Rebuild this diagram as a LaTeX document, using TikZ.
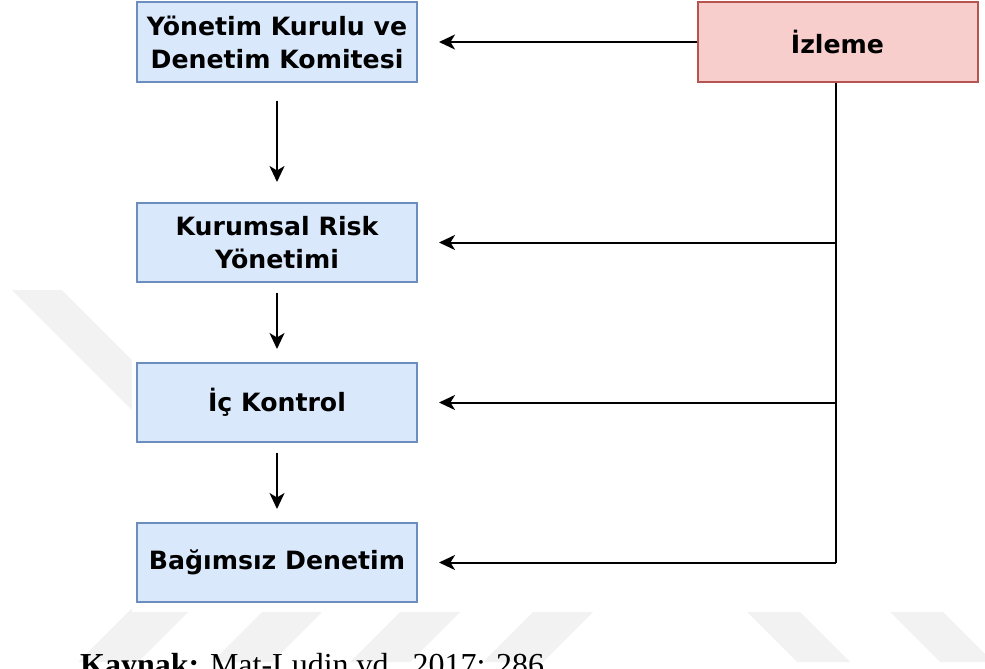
\documentclass[tikz,border=0pt]{standalone}
\usepackage{fontspec}
\setmainfont{Liberation Serif}
\newfontfamily\boxfont{DejaVu Sans}
\usetikzlibrary{arrows.meta}

\definecolor{bluefill}{HTML}{DAE8FC}
\definecolor{blueline}{HTML}{6C8EBF}
\definecolor{redfill}{HTML}{F8CECC}
\definecolor{redline}{HTML}{B85450}
\definecolor{markgray}{HTML}{F2F2F2}

\tikzset{
  box/.style={draw=blueline, fill=bluefill, line width=2pt,
    minimum width=280pt, minimum height=79pt, inner sep=0pt,
    align=center, font=\boxfont\bfseries\fontsize{25.2}{33}\selectfont},
  monbox/.style={box, draw=redline, fill=redfill},
  wire/.style={line width=2pt, black},
  arr/.style={wire, -{Stealth[length=16pt, width=15pt, inset=4.5pt]}},
  band/.style={fill=markgray, draw=none},
}

\begin{document}
\begin{tikzpicture}[x=1pt, y=-1pt]
  \useasboundingbox (0,0) rectangle (985,669);
  \clip (0,0) rectangle (985,669);

  % faint page watermark bands
  \fill[band] (12,290) -- (62,290) -- (200,428) -- (150,428) -- cycle;
  \foreach \x in {128,262,400,533} {
    \fill[band] (\x+22,590) -- (\x+82,590) -- (\x+10,662) -- (\x-50,662) -- cycle;
  }
  \foreach \x in {747,890} {
    \fill[band] (\x-22,590) -- (\x+31,590) -- (\x+103,662) -- (\x+50,662) -- cycle;
  }
  % white figure area over the watermark
  \fill[white] (132,0) rectangle (985,612);

  % boxes
  \node[box]    (b1) at (277,42)    {Yönetim Kurulu ve\\Denetim Komitesi};
  \node[monbox] (iz) at (837.5,42)  {İzleme};
  \node[box]    (b2) at (277,242.5) {Kurumsal Risk\\Yönetimi};
  \node[box]    (b3) at (277,402.5) {İç Kontrol};
  \node[box]    (b4) at (277,562.5) {Bağımsız Denetim};

  % downward flow
  \draw[arr, shorten <=18pt, shorten >=20pt] (b1) -- (b2);
  \draw[arr, shorten <=10pt, shorten >=13pt] (b2) -- (b3);
  \draw[arr, shorten <=10pt, shorten >=13pt] (b3) -- (b4);

  % monitoring feedback
  \coordinate (t2) at ([xshift=-1.5pt]iz.south |- b2.east);
  \coordinate (t3) at ([xshift=-1.5pt]iz.south |- b3.east);
  \coordinate (t4) at ([xshift=-1.5pt]iz.south |- b4.east);
  \draw[arr, shorten >=21pt] (iz.west) -- (b1.east);
  \draw[wire] ([xshift=-1.5pt]iz.south) -- (t4);
  \draw[arr, shorten >=21pt] (t2) -- (b2.east);
  \draw[arr, shorten >=21pt] (t3) -- (b3.east);
  \draw[arr, shorten >=21pt] (t4) -- (b4.east);

  % source line
  \node[anchor=base west, inner sep=0pt, font=\fontsize{32}{38}\selectfont]
    (src) at (80,675) {\textbf{Kaynak:} Mat-Ludin vd., 2017: 286};
\end{tikzpicture}
\end{document}
